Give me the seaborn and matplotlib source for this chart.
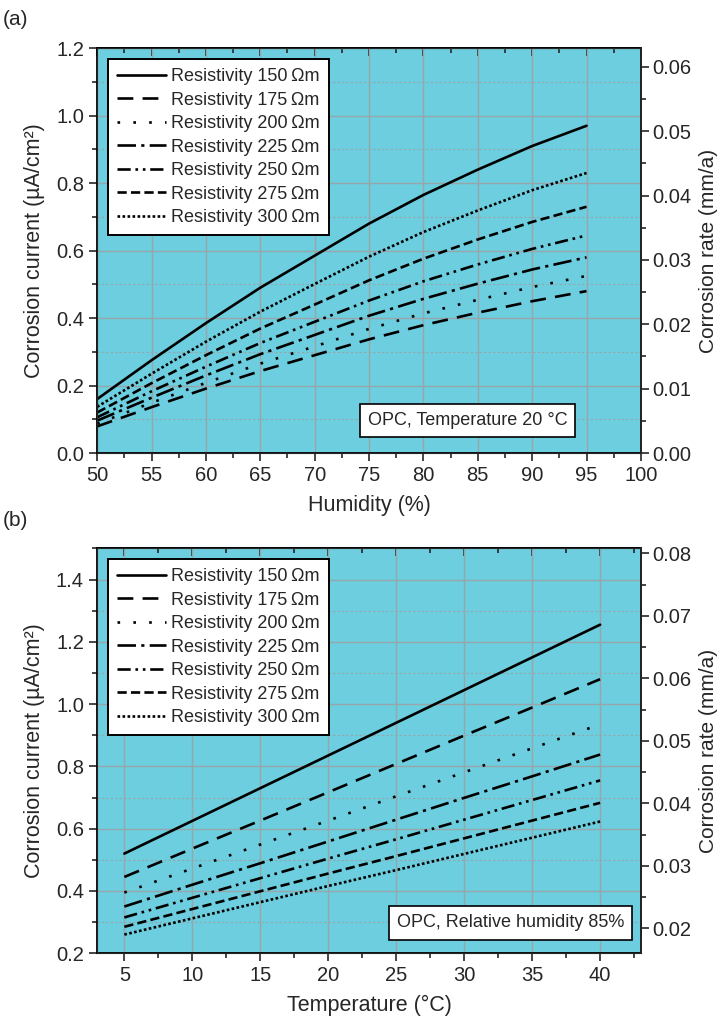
import matplotlib
matplotlib.use('Agg')
import matplotlib.pyplot as plt
from matplotlib.lines import Line2D
from matplotlib.ticker import MultipleLocator, FormatStrFormatter
import pandas as pd
import seaborn as sns

# ---- data ----
resistivity = [150, 175, 200, 225, 250, 275, 300]

# (a) OPC, temperature 20 C, current vs humidity
humidity = [50, 55, 60, 65, 70, 75, 80, 85, 90, 95]
hum_150 = [0.160, 0.275, 0.385, 0.490, 0.585, 0.680, 0.765, 0.840, 0.910, 0.970]
hum_175 = [0.079, 0.136, 0.191, 0.243, 0.290, 0.337, 0.379, 0.416, 0.450, 0.480]
hum_200 = [0.087, 0.149, 0.208, 0.265, 0.316, 0.368, 0.414, 0.454, 0.492, 0.525]
hum_225 = [0.096, 0.164, 0.230, 0.293, 0.350, 0.407, 0.457, 0.502, 0.544, 0.580]
hum_250 = [0.106, 0.183, 0.256, 0.326, 0.389, 0.452, 0.509, 0.559, 0.605, 0.645]
hum_275 = [0.120, 0.207, 0.290, 0.369, 0.440, 0.512, 0.576, 0.633, 0.685, 0.730]
hum_300 = [0.137, 0.235, 0.330, 0.419, 0.501, 0.582, 0.655, 0.719, 0.779, 0.830]

# (b) OPC, relative humidity 85 %, current vs temperature
temperature = [5, 10, 15, 20, 25, 30, 35, 40]
tmp_150 = [0.520, 0.625, 0.730, 0.835, 0.940, 1.045, 1.150, 1.255]
tmp_175 = [0.445, 0.536, 0.626, 0.717, 0.808, 0.899, 0.989, 1.080]
tmp_200 = [0.395, 0.472, 0.549, 0.626, 0.704, 0.781, 0.858, 0.935]
tmp_225 = [0.350, 0.420, 0.489, 0.559, 0.629, 0.699, 0.768, 0.838]
tmp_250 = [0.315, 0.378, 0.441, 0.504, 0.566, 0.629, 0.692, 0.755]
tmp_275 = [0.285, 0.342, 0.399, 0.456, 0.512, 0.569, 0.626, 0.683]
tmp_300 = [0.260, 0.312, 0.364, 0.416, 0.467, 0.519, 0.571, 0.623]

labels = [f'Resistivity {r}\u2009\u03a9m' for r in resistivity]
dash_styles = ['', (6, 3.5), (1, 5), (7, 2, 1.2, 2), (5, 1.8, 1, 1.8, 1, 1.8),
               (3.5, 1.6), (1, 0.9)]
dash_map = dict(zip(labels, dash_styles))

BG = '#6ccedf'
GRID = '#98a6aa'
LW = 1.9


def long_df(x, series):
  rows = []
  for lab, ys in zip(labels, series):
    for xv, yv in zip(x, ys):
      rows.append({'x': xv, 'y': yv, 'label': lab})
  return pd.DataFrame(rows)


def draw_panel(ax, df, xlim, xmajor, ylim, ymajor, rlim, rmajor,
               xlabel, note, note_xy):
  sns.lineplot(data=df, x='x', y='y', style='label', style_order=labels,
               dashes=dash_map, color='black', linewidth=LW, ax=ax,
               legend=False, sort=False)
  ax.set_facecolor(BG)
  ax.set_axisbelow(True)
  ax.set_xlim(*xlim)
  ax.set_ylim(*ylim)
  ax.xaxis.set_major_locator(MultipleLocator(xmajor))
  ax.xaxis.set_minor_locator(MultipleLocator(xmajor / 2))
  ax.yaxis.set_major_locator(MultipleLocator(ymajor))
  ax.yaxis.set_minor_locator(MultipleLocator(ymajor / 2))
  ax.yaxis.set_major_formatter(FormatStrFormatter('%.1f'))
  ax.grid(which='major', color=GRID, lw=1.0)
  ax.grid(which='minor', axis='y', color=GRID, lw=0.8, ls=(0, (2, 2)))
  ax.tick_params(which='both', direction='out', width=1.2, labelsize=14.5,
                 right=False, top=False)
  ax.tick_params(which='major', length=6)
  ax.tick_params(which='minor', length=3.5)
  for sp in ax.spines.values():
    sp.set_linewidth(1.3)
    sp.set_color('black')
  ax.set_xlabel(xlabel, fontsize=15.5, labelpad=7)
  ax.set_ylabel('Corrosion current (\u00b5A/cm\u00b2)', fontsize=15.5, labelpad=8)

  top = ax.secondary_xaxis('top')
  top.xaxis.set_major_locator(MultipleLocator(xmajor))
  top.xaxis.set_minor_locator(MultipleLocator(xmajor / 2))
  top.tick_params(which='both', direction='in', labeltop=False, width=1.2)
  top.tick_params(which='major', length=6)
  top.tick_params(which='minor', length=3.5)
  top.spines['top'].set_linewidth(1.3)

  rax = ax.twinx()
  rax.set_ylim(*rlim)
  rax.yaxis.set_major_locator(MultipleLocator(rmajor))
  rax.yaxis.set_minor_locator(MultipleLocator(rmajor / 2))
  rax.yaxis.set_major_formatter(FormatStrFormatter('%.2f'))
  rax.tick_params(which='both', direction='out', width=1.2, labelsize=14.5,
                  pad=2)
  rax.tick_params(which='major', length=6)
  rax.tick_params(which='minor', length=3.5)
  rax.spines['right'].set_linewidth(1.3)
  rax.set_ylabel('Corrosion rate (mm/a)', fontsize=15, labelpad=6)

  handles = [Line2D([], [], color='black', lw=LW, dashes=d) if d else
             Line2D([], [], color='black', lw=LW) for d in dash_styles]
  leg = ax.legend(handles, labels, loc='upper left', fontsize=13,
                  frameon=True, fancybox=False, framealpha=1,
                  edgecolor='black', handlelength=2.7, handletextpad=0.3,
                  labelspacing=0.36, borderpad=0.5, borderaxespad=0.6)
  leg.get_frame().set_linewidth(1.4)
  leg.set_zorder(10)
  ax.text(note_xy[0], note_xy[1], note, transform=ax.transAxes,
          fontsize=13, ha='center', va='center', zorder=10,
          bbox=dict(boxstyle='square,pad=0.45', fc='white', ec='black', lw=1.2))


sns.set_style('ticks')
plt.rcParams['font.family'] = ['Liberation Sans', 'DejaVu Sans']

fig = plt.figure(figsize=(7.25, 10.25), dpi=100)
ax_a = fig.add_axes([0.134, 0.558, 0.750, 0.395])
ax_b = fig.add_axes([0.134, 0.070, 0.750, 0.395])

df_a = long_df(humidity, [hum_150, hum_175, hum_200, hum_225, hum_250, hum_275, hum_300])
df_b = long_df(temperature, [tmp_150, tmp_175, tmp_200, tmp_225, tmp_250, tmp_275, tmp_300])

draw_panel(ax_a, df_a, (50, 100), 5, (0, 1.2), 0.2, (0, 0.0629), 0.01,
           'Humidity (%)', 'OPC, Temperature 20 \u00b0C', (0.681, 0.081))
draw_panel(ax_b, df_b, (3, 43), 5, (0.2, 1.5), 0.2, (0.016, 0.0808), 0.01,
           'Temperature (\u00b0C)', 'OPC, Relative humidity 85%', (0.76, 0.075))

fig.text(0.004, 0.981, '(a)', fontsize=15, ha='left', va='center')
fig.text(0.004, 0.492, '(b)', fontsize=15, ha='left', va='center')

fig.savefig('out.png', dpi=100)
